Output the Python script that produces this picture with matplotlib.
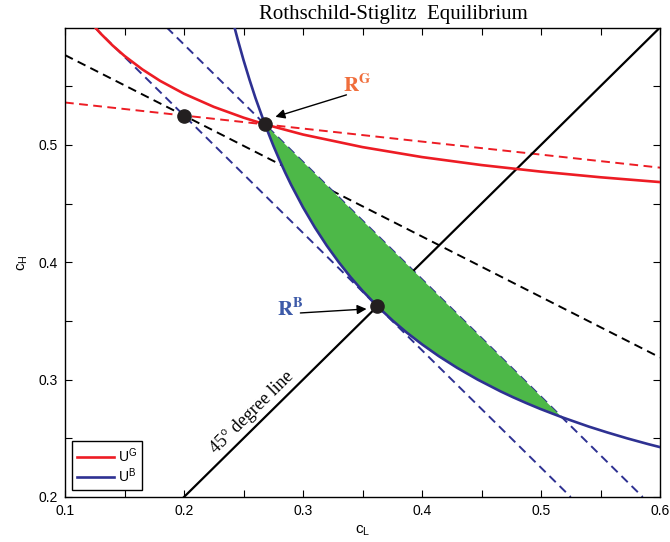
"""
Rothschild-Stiglitz separating equilibrium diagram (c_L vs c_H).
Writes out.png
"""

import matplotlib.pyplot as plt

plt.rcParams["font.family"] = ["Liberation Sans", "DejaVu Sans"]
plt.rcParams["mathtext.fontset"] = "custom"
plt.rcParams["mathtext.rm"] = "Liberation Sans"
plt.rcParams["mathtext.bf"] = "Liberation Sans:bold"

# indifference curve of the bad type through R^B and R^G
ub_x = [0.2425, 0.245, 0.25, 0.255, 0.26, 0.268, 0.275, 0.28, 0.285, 0.29,
        0.30, 0.31, 0.32, 0.33, 0.34, 0.35, 0.3625, 0.3757, 0.3873, 0.4001,
        0.4141, 0.4296, 0.4468, 0.4660, 0.4765, 0.4877, 0.4995, 0.5175,
        0.5401, 0.5557, 0.5723, 0.5903, 0.60]
ub_y = [0.5999, 0.5903, 0.5723, 0.5557, 0.5401, 0.5175, 0.4995, 0.4877,
        0.4765, 0.4660, 0.4468, 0.4296, 0.4141, 0.4001, 0.3873, 0.3757,
        0.3625, 0.35, 0.34, 0.33, 0.32, 0.31, 0.30, 0.29, 0.285, 0.28, 0.275,
        0.268, 0.26, 0.255, 0.25, 0.245, 0.2425]

# indifference curve of the good type through R^G
ug_x = [0.1254, 0.13, 0.14, 0.15, 0.165, 0.18, 0.20, 0.225, 0.25, 0.268,
        0.30, 0.35, 0.40, 0.45, 0.50, 0.55, 0.60]
ug_y = [0.6000, 0.5948, 0.5847, 0.5758, 0.5643, 0.5545, 0.5436, 0.5324,
        0.5232, 0.5175, 0.5088, 0.4981, 0.4896, 0.4828, 0.4772, 0.4724, 0.4683]

# zero-profit lines (end points)
good_line_x = [0.1, 0.6]
good_line_y = [0.5361, 0.4806]
pool_line_x = [0.1, 0.6]
pool_line_y = [0.5765, 0.3189]
bad_line_x = [0.125, 0.525]
bad_line_y = [0.6, 0.2]
bad_rg_line_x = [0.1855, 0.5855]
bad_rg_line_y = [0.6, 0.2]
diag_x = [0.2, 0.6]
diag_y = [0.2, 0.6]

# endowment, R^G, R^B
pts_x = [0.2, 0.268, 0.3625]
pts_y = [0.525, 0.5175, 0.3625]

RED = "#ED1C24"
BLUE = "#2E3192"
GREEN = "#4DB848"


def main():
    fig = plt.figure(figsize=(6.7, 5.42), dpi=100)
    ax = fig.add_axes([65 / 670, 45 / 542, 595 / 670, 469.5 / 542])

    dash = dict(lw=1.4, dashes=(4.5, 2.8), zorder=2)
    ax.plot(good_line_x, good_line_y, color=RED, **dash)
    ax.plot(pool_line_x, pool_line_y, color="black", **dash)
    ax.plot(bad_line_x, bad_line_y, color=BLUE, **dash)
    ax.plot(bad_rg_line_x, bad_rg_line_y, color=BLUE, **dash)
    ax.plot(diag_x, diag_y, color="black", lw=1.6, zorder=2)

    # shaded region between U^B and the bad-type line through R^G
    i0 = ub_x.index(0.268)
    i1 = ub_x.index(0.5175)
    ax.fill(ub_x[i0:i1 + 1], ub_y[i0:i1 + 1], color=GREEN, lw=0, zorder=3)

    ax.plot(ug_x, ug_y, color=RED, lw=1.9, zorder=4, label="U$^\\mathrm{G}$")
    ax.plot(ub_x, ub_y, color=BLUE, lw=1.9, zorder=4, label="U$^\\mathrm{B}$")

    ax.plot(pts_x, pts_y, "o", color="#231F20", ms=9.5, zorder=6)

    ax.annotate("", xy=(0.2768, 0.5239), xytext=(0.3365, 0.5426),
                arrowprops=dict(arrowstyle="-|>", color="black", lw=1.0,
                                mutation_scale=14, shrinkA=0, shrinkB=0),
                zorder=7)
    ax.annotate("", xy=(0.3534, 0.3602), xytext=(0.2978, 0.3568),
                arrowprops=dict(arrowstyle="-|>", color="black", lw=1.0,
                                mutation_scale=14, shrinkA=0, shrinkB=0),
                zorder=7)
    ax.text(0.3332, 0.5452, "$\\mathbf{R^G}$", color="#F06E3C", fontsize=15,
            math_fontfamily="stix", ha="left", va="baseline")
    ax.text(0.2785, 0.3542, "$\\mathbf{R^B}$", color="#3D5AA8", fontsize=15,
            math_fontfamily="stix", ha="left", va="baseline")
    ax.text(0.2574, 0.2724, "45° degree line", family="Liberation Serif",
            fontsize=13, rotation=44.6, ha="center", va="center")

    ax.set_xlim(0.1, 0.6)
    ax.set_ylim(0.2, 0.6)
    xt = [0.1, 0.15, 0.2, 0.25, 0.3, 0.35, 0.4, 0.45, 0.5, 0.55, 0.6]
    yt = [0.2, 0.25, 0.3, 0.35, 0.4, 0.45, 0.5, 0.55]
    ax.set_xticks(xt)
    ax.set_xticklabels(["0.1", "", "0.2", "", "0.3", "", "0.4", "", "0.5", "", "0.6"])
    ax.set_yticks(yt)
    ax.set_yticklabels(["0.2", "", "0.3", "", "0.4", "", "0.5", ""])
    ax.tick_params(direction="in", top=True, right=True, length=5, width=0.8,
                   labelsize=10, pad=5)
    for s in ax.spines.values():
        s.set_linewidth(1.0)
    ax.set_xlabel("c$_\\mathrm{L}$", fontsize=11, labelpad=4)
    ax.set_ylabel("c$_\\mathrm{H}$", fontsize=11, labelpad=6)

    leg = ax.legend(loc="lower left", fontsize=10, handlelength=2.7,
                    fancybox=False, edgecolor="black", framealpha=1,
                    borderaxespad=0.5, handletextpad=0.3, labelspacing=0.15,
                    borderpad=0.35)
    leg.get_frame().set_linewidth(1.0)

    fig.text(393.5 / 670, (542 - 19) / 542, "Rothschild-Stiglitz  Equilibrium",
             family="Liberation Serif", fontsize=15, ha="center", va="baseline")

    fig.savefig("out.png", dpi=100)
    plt.close(fig)


if __name__ == "__main__":
    main()
